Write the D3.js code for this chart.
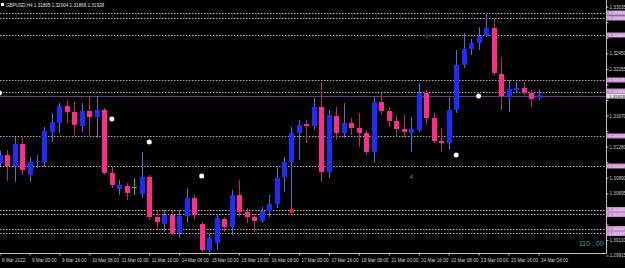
<!DOCTYPE html>
<html>
<head>
<meta charset="utf-8">
<script src="https://cdn.jsdelivr.net/npm/d3@7"></script>
<style>
html, body { margin: 0; padding: 0; background: #000; overflow: hidden; }
svg { display: block; }
text { font-family: "Liberation Sans", Arial, sans-serif; }
</style>
</head>
<body>
<svg id="chart" width="625" height="268"></svg>
<script>
// === DATA ===
const titleText = "GBPUSD,H4  1.31895 1.32004 1.31868 1.31928";

const times = [
  "8 Mar 08:00","8 Mar 12:00","8 Mar 16:00","8 Mar 20:00",
  "9 Mar 00:00","9 Mar 04:00","9 Mar 08:00","9 Mar 12:00","9 Mar 16:00","9 Mar 20:00",
  "10 Mar 00:00","10 Mar 04:00","10 Mar 08:00","10 Mar 12:00","10 Mar 16:00","10 Mar 20:00",
  "11 Mar 00:00","11 Mar 04:00","11 Mar 08:00","11 Mar 12:00","11 Mar 16:00","11 Mar 20:00",
  "14 Mar 00:00","14 Mar 04:00","14 Mar 08:00","14 Mar 12:00","14 Mar 16:00","14 Mar 20:00",
  "15 Mar 00:00","15 Mar 04:00","15 Mar 08:00","15 Mar 12:00","15 Mar 16:00","15 Mar 20:00",
  "16 Mar 00:00","16 Mar 04:00","16 Mar 08:00","16 Mar 12:00","16 Mar 16:00","16 Mar 20:00",
  "17 Mar 00:00","17 Mar 04:00","17 Mar 08:00","17 Mar 12:00","17 Mar 16:00","17 Mar 20:00",
  "18 Mar 00:00","18 Mar 04:00","18 Mar 08:00","18 Mar 12:00","18 Mar 16:00","18 Mar 20:00",
  "21 Mar 00:00","21 Mar 04:00","21 Mar 08:00","21 Mar 12:00","21 Mar 16:00","21 Mar 20:00",
  "22 Mar 00:00","22 Mar 04:00","22 Mar 08:00","22 Mar 12:00","22 Mar 16:00","22 Mar 20:00",
  "23 Mar 00:00","23 Mar 04:00","23 Mar 08:00","23 Mar 12:00","23 Mar 16:00","23 Mar 20:00",
  "24 Mar 00:00","24 Mar 04:00","24 Mar 08:00"
];

const open = [
  1.31075,1.31175,1.31037,1.31313,
  1.30925,1.31088,1.31088,1.31464,1.31577,1.31790,
  1.31715,1.31539,1.31727,1.31652,1.31740,1.30950,
  1.30749,1.30787,1.30774,1.30686,1.30899,1.30398,
  1.30310,1.30423,1.30197,1.30410,1.30636,1.30310,
  1.29984,1.30072,1.30373,1.30272,1.30674,1.30461,
  1.30398,1.30348,1.30473,1.30561,1.30899,1.31088,
  1.31451,1.31564,1.31539,1.31777,1.30962,1.31664,
  1.31451,1.31577,1.31514,1.31451,1.31213,1.31840,
  1.31727,1.31602,1.31501,1.31451,1.31489,1.31953,
  1.31639,1.31351,1.31326,1.31740,1.32304,1.32505,
  1.32580,1.32668,1.32768,1.32191,1.31903,1.31990,
  1.32016,1.31953,1.31895
];
const high = [
  1.31226,1.31238,1.31401,1.31389,
  1.31150,1.31175,1.31526,1.31702,1.31827,1.31865,
  1.31840,1.31827,1.31915,1.31915,1.31765,1.31025,
  1.30862,1.30824,1.30887,1.31213,1.30925,1.30486,
  1.30486,1.30486,1.30486,1.30762,1.30674,1.30335,
  1.30185,1.30423,1.30398,1.30736,1.30862,1.30511,
  1.30435,1.30523,1.30674,1.31025,1.31150,1.31526,
  1.31614,1.31614,1.31890,1.32091,1.31740,1.31777,
  1.31827,1.31639,1.31702,1.31489,1.31903,1.31953,
  1.31777,1.31677,1.31677,1.31652,1.32078,1.31990,
  1.31702,1.31514,1.31903,1.32492,1.32705,1.32630,
  1.32780,1.32956,1.32893,1.32404,1.32116,1.32091,
  1.32091,1.31990,1.32004
];
const low = [
  1.31037,1.30849,1.30837,1.30925,
  1.30837,1.31012,1.31025,1.31338,1.31451,1.31577,
  1.31426,1.31464,1.31426,1.31389,1.30925,1.30762,
  1.30674,1.30611,1.30674,1.30636,1.30360,1.30235,
  1.30210,1.30172,1.30135,1.30323,1.30360,1.29959,
  1.29959,1.29984,1.30210,1.30172,1.30398,1.30323,
  1.30210,1.30323,1.30398,1.30511,1.30711,1.30486,
  1.31113,1.31326,1.31489,1.30837,1.30887,1.31363,
  1.31389,1.31426,1.31276,1.31175,1.31075,1.31677,
  1.31526,1.31401,1.31401,1.31213,1.31464,1.31552,
  1.31326,1.31213,1.31238,1.31702,1.32266,1.32429,
  1.32492,1.32655,1.32179,1.31740,1.31715,1.31953,
  1.31928,1.31777,1.31868
];
const close = [
  1.31175,1.31037,1.31313,1.30987,
  1.31088,1.31100,1.31476,1.31589,1.31790,1.31715,
  1.31552,1.31727,1.31652,1.31740,1.30950,1.30799,
  1.30799,1.30699,1.30774,1.30899,1.30398,1.30335,
  1.30423,1.30197,1.30410,1.30636,1.30423,1.29984,
  1.30135,1.30385,1.30272,1.30674,1.30461,1.30398,
  1.30348,1.30473,1.30561,1.30887,1.31088,1.31451,
  1.31552,1.31539,1.31777,1.30962,1.31677,1.31451,
  1.31577,1.31514,1.31451,1.31213,1.31840,1.31727,
  1.31602,1.31501,1.31464,1.31501,1.31953,1.31639,
  1.31351,1.31326,1.31740,1.32304,1.32505,1.32580,
  1.32668,1.32768,1.32204,1.31915,1.32003,1.32016,
  1.31953,1.31878,1.31928
];

const priceTicks = [1.29915,1.30110,1.30305,1.30500,1.30695,1.30890,1.31085,1.31280,
  1.31475,1.31670,1.31865,1.32060,1.32255,1.32450,1.32645,1.32840,1.33035];
const timeTicks = ["8 Mar 08:00","9 Mar 00:00","9 Mar 16:00","10 Mar 08:00","11 Mar 00:00",
  "11 Mar 16:00","14 Mar 08:00","15 Mar 00:00","15 Mar 16:00","16 Mar 08:00","17 Mar 00:00",
  "17 Mar 16:00","18 Mar 08:00","21 Mar 00:00","21 Mar 16:00","22 Mar 08:00","23 Mar 00:00",
  "23 Mar 16:00","24 Mar 08:00"];
const timeTickLabels = ["8 Mar 2022","9 Mar 00:00","9 Mar 16:00","10 Mar 08:00","11 Mar 00:00",
  "11 Mar 16:00","14 Mar 08:00","15 Mar 00:00","15 Mar 16:00","16 Mar 08:00","17 Mar 00:00",
  "17 Mar 16:00","18 Mar 08:00","21 Mar 00:00","21 Mar 16:00","22 Mar 08:00","23 Mar 00:00",
  "23 Mar 16:00","24 Mar 08:00"];

// horizontal levels (dotted) and the solid price line
const levels = [1.32956,1.32893,1.32680,1.32116,1.31965,1.31414,1.31037,1.30486,1.30435,1.30247,1.30197];
const priceLine = 1.31915;
const lastClose = 1.31928;

// indicator dots
const whiteDotTimes = ["8 Mar 08:00","10 Mar 20:00","11 Mar 16:00","14 Mar 20:00","22 Mar 12:00","23 Mar 00:00"];
const whiteDotPrices = [1.31953,1.31627,1.31338,1.30912,1.31175,1.31915];
const redDotTimes = ["16 Mar 20:00"];
const redDotPrices = [1.30473];

// small indicator labels
const markTimes = ["11 Mar 00:00","21 Mar 20:00","21 Mar 12:00"];
const markPrices = [1.30410,1.32655,1.30899];
const markTexts = ["4","4","4"];
const markColors = ["#8b1c24","#9a1f2a","#2ecc71"];

const timerText = "110 : 00";

// === SETUP ===
const W = 625, H = 268;
const plotRight = 606, plotBottom = 253;
const bullColor = "#1f2bff", bearColor = "#ff2d8a";
const bullWick = "#5a6fc8", bearWick = "#b0345e", dojiColor = "#22c55e";
const fmt = d3.format(".5f");

const svg = d3.select("#chart");
svg.append("rect").attr("width", W).attr("height", H).attr("fill", "#000");

const x = d3.scalePoint().domain(times).range([-0.44, 538.5]);
const y = d3.scaleLinear().domain([1.29934, 1.33119]).range([254, 0]);

const candles = times.map((t, i) => ({ t, o: open[i], h: high[i], l: low[i], c: close[i] }));

svg.append("clipPath").attr("id", "plot")
  .append("rect").attr("x", 0).attr("y", 0).attr("width", plotRight).attr("height", plotBottom);
const plot = svg.append("g").attr("clip-path", "url(#plot)");

// === LEVEL LINES ===
plot.selectAll("line.level")
  .data(levels)
  .join("line")
  .attr("class", "level")
  .attr("x1", 0).attr("x2", plotRight)
  .attr("y1", d => Math.round(y(d)) + 0.5)
  .attr("y2", d => Math.round(y(d)) + 0.5)
  .attr("stroke", "#bcb0bc")
  .attr("stroke-width", 1)
  .attr("stroke-dasharray", "1.5,1.5");

plot.append("line")
  .attr("x1", 0).attr("x2", plotRight)
  .attr("y1", Math.round(y(priceLine)) + 0.5)
  .attr("y2", Math.round(y(priceLine)) + 0.5)
  .attr("stroke", "#6b3a80").attr("stroke-width", 1);

// === CANDLES ===
const colorOf = d => d.c > d.o ? bullColor : d.c < d.o ? bearColor : dojiColor;
const wickOf = d => d.c > d.o ? bullWick : d.c < d.o ? bearWick : dojiColor;

plot.selectAll("line.wick")
  .data(candles)
  .join("line")
  .attr("class", "wick")
  .attr("x1", d => Math.round(x(d.t)) + 0.5)
  .attr("x2", d => Math.round(x(d.t)) + 0.5)
  .attr("y1", d => y(d.h))
  .attr("y2", d => y(d.l))
  .attr("stroke", wickOf)
  .attr("stroke-width", 1);

plot.selectAll("rect.body")
  .data(candles)
  .join("rect")
  .attr("class", "body")
  .attr("x", d => Math.round(x(d.t)) - 2)
  .attr("y", d => y(Math.max(d.o, d.c)))
  .attr("width", 5)
  .attr("height", d => Math.max(1, y(Math.min(d.o, d.c)) - y(Math.max(d.o, d.c))))
  .attr("fill", colorOf);

// === DOTS & MARKS ===
plot.selectAll("circle.white")
  .data(whiteDotTimes)
  .join("circle")
  .attr("class", "white")
  .attr("cx", d => x(d))
  .attr("cy", (d, i) => y(whiteDotPrices[i]))
  .attr("r", 2.5)
  .attr("fill", "#fff");

plot.selectAll("circle.red")
  .data(redDotTimes)
  .join("circle")
  .attr("class", "red")
  .attr("cx", d => x(d))
  .attr("cy", (d, i) => y(redDotPrices[i]))
  .attr("r", 2.5)
  .attr("fill", "#e01b2c");

plot.selectAll("text.mark")
  .data(markTimes)
  .join("text")
  .attr("class", "mark")
  .attr("x", d => x(d))
  .attr("y", (d, i) => y(markPrices[i]))
  .attr("dy", "0.35em")
  .attr("text-anchor", "middle")
  .attr("font-size", 5.5)
  .attr("fill", (d, i) => markColors[i])
  .text((d, i) => markTexts[i]);

// === TITLE ===
svg.append("rect").attr("x", 1).attr("y", 3).attr("width", 3).attr("height", 3).attr("fill", "#fff");
svg.append("text").attr("x", 6).attr("y", 7)
  .attr("font-size", 4.6).attr("fill", "#e0e0e0").text(titleText);

// === TIME AXIS ===
const xAxis = svg.append("g")
  .attr("transform", `translate(0,${plotBottom + 0.5})`)
  .call(d3.axisBottom(x).tickValues(timeTicks).tickSize(2).tickSizeOuter(0)
    .tickFormat((d, i) => timeTickLabels[i]));
xAxis.select(".domain").attr("stroke", "#c0c0c0").attr("d", `M0,0H${plotRight + 0.5}`);
xAxis.selectAll(".tick line").attr("stroke", "#c0c0c0");
xAxis.selectAll(".tick text")
  .attr("text-anchor", "start").attr("dx", 2).attr("y", 5)
  .attr("font-size", 4.6).attr("fill", "#d0d0d0");

// === PRICE TAGS (position first, so covered axis labels can be skipped) ===
const tagData = levels.map(v => ({ v, fill: "#c98fd0", color: "#f6e8f6" }))
  .concat([{ v: lastClose, fill: "#ece0ee", color: "#222" }]);
tagData.forEach(d => { d.ty = y(d.v); });
tagData.sort((a, b) => a.ty - b.ty);
const tagH = 5;
for (let k = 1; k < tagData.length; k++) {
  const gap = tagData[k].ty - tagData[k - 1].ty;
  if (gap < tagH) {
    const push = (tagH - gap) / 2;
    tagData[k - 1].ty -= push;
    tagData[k].ty += push;
  }
}

// === PRICE AXIS ===
const yAxis = svg.append("g")
  .attr("transform", `translate(${plotRight + 0.5},0)`)
  .call(d3.axisRight(y).tickValues(priceTicks).tickSize(2).tickSizeOuter(0)
    .tickFormat(fmt));
yAxis.select(".domain").attr("stroke", "#c0c0c0").attr("d", `M0,0V${plotBottom + 0.5}`);
yAxis.selectAll(".tick line").attr("stroke", "#c0c0c0");
yAxis.selectAll(".tick text")
  .attr("x", 3).attr("font-size", 4.6).attr("fill", "#d0d0d0");
// labels hidden under a tag
yAxis.selectAll(".tick text")
  .filter(d => tagData.some(t => Math.abs(t.ty - y(d)) < 5))
  .remove();

const tags = svg.append("g");
tags.selectAll("rect")
  .data(tagData)
  .join("rect")
  .attr("x", plotRight + 1)
  .attr("y", d => d.ty - tagH / 2)
  .attr("width", W - plotRight - 1)
  .attr("height", tagH)
  .attr("fill", d => d.fill);
tags.selectAll("text")
  .data(tagData)
  .join("text")
  .attr("x", plotRight + 3)
  .attr("y", d => d.ty)
  .attr("dy", "0.34em")
  .attr("font-size", 4.4)
  .attr("fill", d => d.color)
  .text(d => fmt(d.v));

// === TIMER ===
svg.append("text").attr("x", 579).attr("y", 246)
  .attr("font-size", 7).attr("fill", "#2fa8a8")
  .text(timerText);
</script>
</body>
</html>
